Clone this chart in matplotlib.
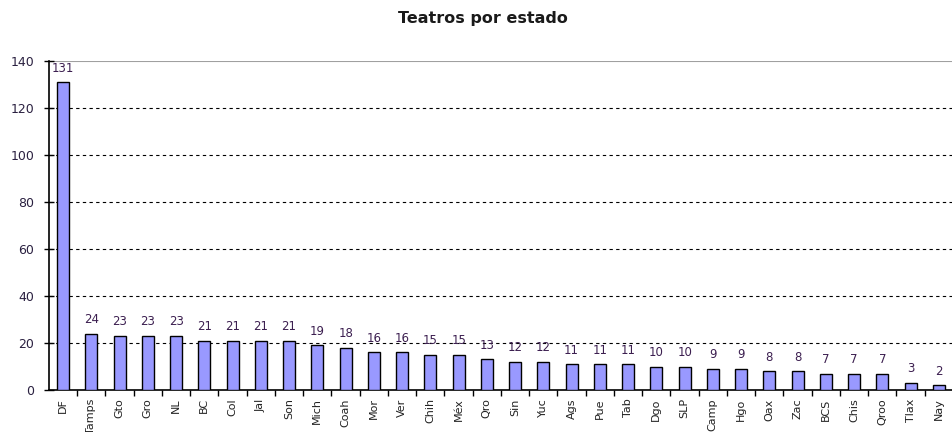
import matplotlib
matplotlib.use("Agg")
import matplotlib.pyplot as plt
import numpy as np

# Datos: teatros por estado
estados = ['DF', 'Tamps', 'Gto', 'Gro', 'NL', 'BC', 'Col', 'Jal', 'Son', 'Mich',
           'Coah', 'Mor', 'Ver', 'Chih', 'Méx', 'Qro', 'Sin', 'Yuc', 'Ags', 'Pue',
           'Tab', 'Dgo', 'SLP', 'Camp', 'Hgo', 'Oax', 'Zac', 'BCS', 'Chis', 'Qroo',
           'Tlax', 'Nay']
teatros = [131, 24, 23, 23, 23, 21, 21, 21, 21, 19,
           18, 16, 16, 15, 15, 13, 12, 12, 11, 11,
           11, 10, 10, 9, 9, 8, 8, 7, 7, 7,
           3, 2]
y_ticks = [0, 20, 40, 60, 80, 100, 120, 140]

plt.rcParams['font.family'] = ['DejaVu Sans']

fig = plt.figure(figsize=(9.53, 4.32), dpi=100)
ax = fig.add_axes([49 / 953, 42 / 432, 904 / 953, 329 / 432])

x = np.arange(len(estados))
ax.bar(x, teatros, width=0.42, color='#9999ff', edgecolor='black', linewidth=1.0, zorder=3)

# Etiquetas de valores
label_color = '#3c1f50'
for xi, v in zip(x, teatros):
    ax.annotate(str(v), (xi, v), xytext=(0, 5.5), textcoords='offset points',
                ha='center', va='bottom', fontsize=8.5, color=label_color, zorder=4)

# Rejilla
for yv in y_ticks[1:-1]:
    ax.axhline(yv, color='black', linestyle=(0, (3, 3)), linewidth=0.8, zorder=1)
ax.axhline(140, color='#a0a0a0', linewidth=1.5, zorder=1)

step = 882 / 31
ax.set_xlim(-0.5, -0.5 + 904 / step)
ax.set_ylim(0, 140)
ax.set_yticks(y_ticks)
ax.set_yticklabels([str(t) for t in y_ticks], fontsize=9, color='#2a2040')
ax.tick_params(axis='y', direction='inout', length=7, width=1, pad=7)

ax.set_xticks(x)
ax.set_xticklabels(estados, rotation=90, fontsize=8, color='#222222')
ax.tick_params(axis='x', length=0, pad=6)
ax.set_xticks(np.arange(len(estados)) + 0.5, minor=True)
ax.tick_params(axis='x', which='minor', direction='out', length=4, width=1)

for s in ['top', 'right']:
    ax.spines[s].set_visible(False)
ax.spines['left'].set_linewidth(1.2)
ax.spines['bottom'].set_linewidth(1.2)

fig.text(483 / 953, 1 - 18 / 432, 'Teatros por estado', ha='center', va='center',
         fontsize=11.5, fontweight='bold', color='#1a1a1a')

fig.savefig('out.png', dpi=100)
